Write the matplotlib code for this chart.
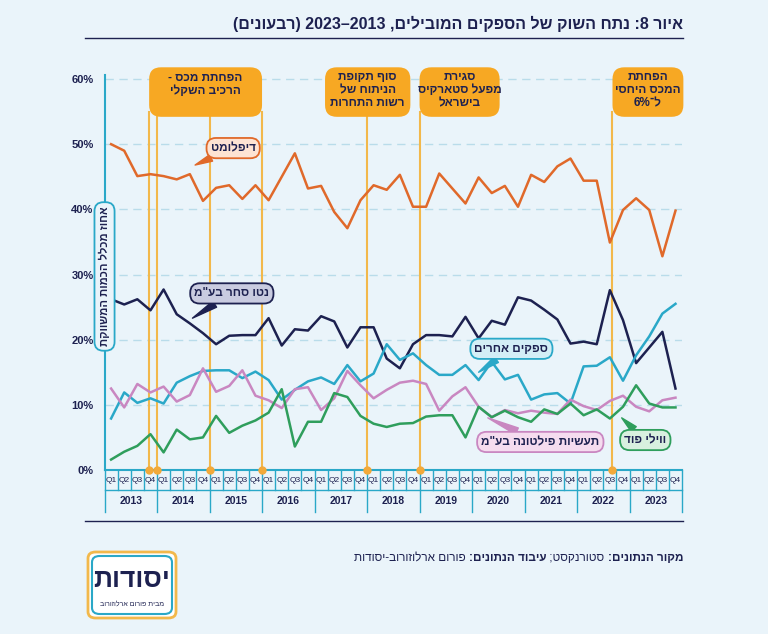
import re
import matplotlib
matplotlib.use("Agg")
import matplotlib.pyplot as plt
from matplotlib.patches import FancyBboxPatch, Rectangle

plt.rcParams['font.family'] = ['Liberation Sans', 'DejaVu Sans']


def rtl(s):
    # crude visual reordering for Hebrew text
    r = s[::-1]
    r = re.sub(r'[0-9%]+', lambda m: m.group(0)[::-1], r)
    return r.translate(str.maketrans('()', ')('))


years = list(range(2013, 2024))
quarters = ['Q1', 'Q2', 'Q3', 'Q4']

diplomat = [50.0, 49.0, 45.1, 45.4, 45.1, 44.6, 45.4, 41.3, 43.3, 43.7, 41.6, 43.7,
            41.4, 45.0, 48.6, 43.2, 43.6, 39.6, 37.1, 41.4, 43.7, 43.0, 45.3, 40.4,
            40.4, 45.5, 43.2, 40.9, 44.9, 42.5, 43.6, 40.4, 45.3, 44.2, 46.6, 47.8,
            44.4, 44.4, 34.9, 39.9, 41.7, 39.9, 32.8, 39.8]
neto = [26.2, 25.4, 26.2, 24.5, 27.7, 23.9, 22.5, 21.0, 19.3, 20.6, 20.7, 20.7,
        23.3, 19.1, 21.6, 21.4, 23.6, 22.8, 18.8, 21.9, 21.9, 17.1, 15.6, 19.3,
        20.7, 20.7, 20.5, 23.5, 20.2, 22.9, 22.3, 26.5, 26.0, 24.6, 23.1, 19.4,
        19.7, 19.3, 27.6, 23.0, 16.4, 18.8, 21.2, 12.5]
others = [7.9, 11.9, 10.3, 11.0, 10.2, 13.4, 14.4, 15.2, 15.3, 15.3, 14.1, 15.1,
          13.8, 10.8, 12.3, 13.6, 14.2, 13.2, 16.1, 13.6, 14.8, 19.3, 16.9, 17.9,
          16.1, 14.6, 14.6, 16.1, 13.8, 16.6, 13.9, 14.6, 10.8, 11.6, 11.8, 10.2,
          15.9, 16.0, 17.3, 13.7, 17.6, 20.5, 24.0, 25.5]
piltuna = [12.5, 9.6, 13.2, 11.9, 12.8, 10.5, 11.5, 15.6, 12.0, 12.9, 15.3, 11.4,
           10.7, 9.5, 12.4, 12.7, 9.2, 11.0, 15.2, 13.0, 11.0, 12.3, 13.4, 13.7,
           13.2, 9.1, 11.3, 12.7, 9.7, 8.1, 9.2, 8.7, 9.1, 8.8, 8.6, 10.8,
           9.8, 9.2, 10.6, 11.4, 9.7, 9.0, 10.7, 11.1]
willi = [1.6, 2.8, 3.7, 5.5, 2.7, 6.2, 4.7, 5.0, 8.3, 5.7, 6.8, 7.6,
         8.8, 12.4, 3.6, 7.4, 7.4, 11.8, 11.2, 8.3, 7.1, 6.6, 7.1, 7.2,
         8.2, 8.4, 8.4, 5.0, 9.7, 8.1, 9.1, 8.1, 7.4, 9.3, 8.6, 10.2,
         8.4, 9.3, 7.9, 9.7, 13.0, 10.2, 9.6, 9.6]

event_lines = [2.9, 3.5, 7.5, 11.5, 19.5, 23.5, 38.2]
events = [(2.9, 11.5, 'הפחתת מכס -\nהרכיב השקלי'),
          (16.3, 22.8, 'סוף תקופת\nהניתוח של\nרשות התחרות'),
          (23.5, 29.6, 'סגירת\nמפעל סטארקיס\nבישראל'),
          (38.2, 43.6, 'הפחתת\nהמכס היחסי\nל־6%')]

navy = '#1d2150'
cyan = '#2aa8c8'
bg = '#eaf4fa'
x = list(range(len(diplomat)))

fig = plt.figure(figsize=(7.68, 6.34), dpi=100, facecolor=bg)
ax = fig.add_axes([0.1361, 0.2587, 0.752, 0.6372])
ax.set_facecolor(bg)
ax.set_xlim(-0.5, 43.5)
ax.set_ylim(0, 62)
for s in ax.spines.values():
    s.set_visible(False)
ax.set_xticks([])
ax.set_yticks(range(0, 61, 10))
ax.set_yticklabels([f'{v}%' for v in range(0, 61, 10)], fontsize=8, fontweight='bold', color=navy)
ax.tick_params(axis='y', length=0, pad=8)
for v in range(10, 61, 10):
    ax.axhline(v, color='#b9dcea', lw=1, ls=(0, (6, 4)), zorder=0)

# event markers
for ex in event_lines:
    ax.plot([ex, ex], [0, 55], color='#f2b84b', lw=1.5, zorder=1)
    ax.plot(ex, 0, 'o', color='#f2a93a', ms=5, clip_on=False, zorder=5)
for x0, x1, txt in events:
    ax.add_patch(FancyBboxPatch((x0, 54.2), x1 - x0, 7.6, boxstyle='round,pad=0,rounding_size=0.9',
                                mutation_aspect=2.0, fc='#f7a823', ec='none', clip_on=False, zorder=3))
    lines = [rtl(t) for t in txt.split('\n')]
    ax.text((x0 + x1) / 2, 58.3 if len(lines) == 3 else 59.2, '\n'.join(lines), ha='center', va='center',
            fontsize=8.5, fontweight='bold', color=navy, linespacing=1.15, zorder=4)

ax.plot(x, diplomat, color='#e0692a', lw=1.8, zorder=4)
ax.plot(x, neto, color=navy, lw=1.8, zorder=4)
ax.plot(x, others, color=cyan, lw=1.8, zorder=4)
ax.plot(x, piltuna, color='#c987c1', lw=1.8, zorder=4)
ax.plot(x, willi, color='#2f9e5c', lw=1.8, zorder=4)

callouts = [('דיפלומט', (9.3, 49.4), (6.4, 46.8), '#fde3d3', '#e0692a'),
            ('נטו סחר בע"מ', (9.2, 27.1), (6.2, 23.3), '#c9cbe0', navy),
            ('ספקים אחרים', (30.5, 18.6), (28.0, 15.0), '#d3eef6', cyan),
            ('תעשיות פילטונה בע"מ', (32.7, 4.3), (28.7, 8.0), '#f5dcef', '#c987c1'),
            ('ווילי פוד', (40.7, 4.6), (38.9, 8.0), '#d8f0df', '#2f9e5c')]
for txt, pos, tip, fc, ec in callouts:
    ax.annotate(rtl(txt), xy=tip, xytext=pos, ha='center', va='center', fontsize=8.5,
                fontweight='bold', color=navy, zorder=6,
                bbox=dict(boxstyle='round,pad=0.35,rounding_size=0.8', fc=fc, ec=ec, lw=1.3),
                arrowprops=dict(arrowstyle='wedge,tail_width=0.6', fc=ec, ec=ec, shrinkA=0, shrinkB=0))

# y axis line and label
ax.plot([-0.5, -0.5], [0, 60.6], color=cyan, lw=1.5, clip_on=False, zorder=5)
ax.text(-0.5, 29.7, rtl('אחוז מכלל הכמות המשווקת'), rotation=90, ha='center', va='center',
        fontsize=8, fontweight='bold', color=navy, zorder=6,
        bbox=dict(boxstyle='round,pad=0.4,rounding_size=0.8', fc=bg, ec=cyan, lw=1.3))

# quarter / year table under the axis
ax.plot([-0.5, 43.5], [0, 0], color=cyan, lw=1.5, clip_on=False)
ax.plot([-0.5, 43.5], [-3.1, -3.1], color=cyan, lw=1, clip_on=False)
for i in range(45):
    top = -6.4 if i % 4 == 0 else -3.1
    ax.plot([i - 0.5, i - 0.5], [0, top], color=cyan, lw=1, clip_on=False)
for i in x:
    ax.text(i, -1.55, quarters[i % 4], ha='center', va='center', fontsize=6, color=navy, clip_on=False)
for k, yr in enumerate(years):
    ax.text(4 * k + 1.5, -4.8, str(yr), ha='center', va='center', fontsize=7.5,
            fontweight='bold', color=navy, clip_on=False)

# title
fig.text(683 / 768, 1 - 24 / 634, rtl('איור 8: נתח השוק של הספקים המובילים, 2013–2023 (רבעונים)'),
         ha='right', va='center', fontsize=11.5, fontweight='bold', color=navy)
fig.add_artist(plt.Line2D([85 / 768, 683 / 768], [1 - 38 / 634] * 2, color=navy, lw=1))
fig.add_artist(plt.Line2D([85 / 768, 683 / 768], [1 - 521 / 634] * 2, color=navy, lw=1))

# source line, bold parts drawn right to left
fig.canvas.draw()
r = fig.canvas.get_renderer()
xr = 683
for part, bold in [('מקור הנתונים:', True), (' סטורנקסט; ', False),
                   ('עיבוד הנתונים:', True), (' פורום ארלוזורוב-יסודות', False)]:
    t = fig.text(xr / 768, 1 - 558 / 634, rtl(part), ha='right', va='center', fontsize=8.5,
                 fontweight='bold' if bold else 'normal', color=navy)
    xr -= t.get_window_extent(r).width

# logo
fig.add_artist(FancyBboxPatch((88 / 768, 1 - 618 / 634), 88 / 768, 66 / 634,
                              boxstyle='round,pad=0,rounding_size=0.01', fc='white', ec='#f2b84b', lw=2))
fig.add_artist(FancyBboxPatch((92 / 768, 1 - 614 / 634), 80 / 768, 58 / 634,
                              boxstyle='round,pad=0,rounding_size=0.01', fc='none', ec=cyan, lw=1.5))
fig.text(132 / 768, 1 - 580 / 634, rtl('יסודות'), ha='center', va='center', fontsize=19,
         fontweight='bold', color=navy)
fig.text(132 / 768, 1 - 604 / 634, rtl('מבית פורום ארלוזורוב'), ha='center', va='center',
         fontsize=5, color=navy)

fig.savefig('out.png', dpi=100, facecolor=bg)
